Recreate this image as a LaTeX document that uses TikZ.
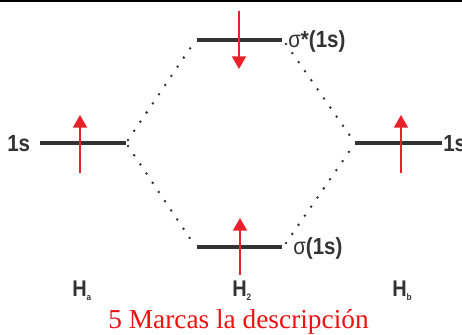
\documentclass[tikz,border=0pt]{standalone}
\usepackage{fontspec}
\setmainfont{Liberation Serif}
\newfontfamily\labfont[FakeStretch=0.88]{Liberation Sans}
\usetikzlibrary{arrows.meta}
\definecolor{lvl}{HTML}{333333}
\definecolor{spin}{HTML}{E8212B}
\definecolor{captred}{HTML}{F01010}
\begin{document}
\begin{tikzpicture}[x=0.75pt,y=-0.75pt,
  level/.style={draw=lvl,line width=2.7pt},
  spinarrow/.style={draw=spin,line width=1.5pt,-{Triangle[width=10.5pt,length=9.5pt]}},
  corr/.style={draw=lvl,line width=2.1pt,line cap=round,dash pattern=on 0pt off 8.3pt},
  lab/.style={text=lvl,font=\labfont\bfseries\fontsize{17.5}{18}\selectfont,inner sep=0pt},
  atom/.style={text=lvl,font=\labfont\bfseries\fontsize{17}{18}\selectfont,inner sep=0pt,anchor=base west}]
\useasboundingbox (0,0) rectangle (462,335);
\fill[black] (0,0) rectangle (462,2.5);
% level end points
\coordinate (a1) at (40,143);  \coordinate (a2) at (126,143);
\coordinate (b1) at (355,143); \coordinate (b2) at (442,143);
\coordinate (s1) at (197,40);  \coordinate (s2) at (282,40);
\coordinate (t1) at (197,247); \coordinate (t2) at (282,247);
% correlation line ends
\coordinate (ca1) at (128,140); \coordinate (ca2) at (193,44);
\coordinate (ca3) at (128,146); \coordinate (ca4) at (193,243);
\coordinate (cb1) at (286,44);  \coordinate (cb2) at (353,140);
\coordinate (cb3) at (286,243); \coordinate (cb4) at (353,146);
\draw[corr] (ca1) -- (ca2);
\draw[corr] (ca3) -- (ca4);
\draw[corr] (cb1) -- (cb2);
\draw[corr] (cb3) -- (cb4);
% levels
\draw[level] (a1) -- (a2);
\draw[level] (b1) -- (b2);
\draw[level] (s1) -- (s2);
\draw[level] (t1) -- (t2);
% spin arrows
\coordinate (ua0) at (80,173);  \coordinate (ua1) at (80,115);
\coordinate (ub0) at (401,173); \coordinate (ub1) at (401,115);
\coordinate (us0) at (239,11);  \coordinate (us1) at (239,69);
\coordinate (ut0) at (240,275); \coordinate (ut1) at (240,218);
\draw[spinarrow] (ua0) -- (ua1);
\draw[spinarrow] (ub0) -- (ub1);
\draw[spinarrow] (us0) -- (us1);
\draw[spinarrow] (ut0) -- (ut1);
% labels
\node[lab,anchor=west] (l1s) at (7,144) {1s};
\node[lab,anchor=west] (r1s) at (443,144) {1s};
\node[lab,anchor=west] (lss) at (288,41) {{\mdseries σ}*(1s)};
\node[lab,anchor=west] (ls) at (293,248) {{\mdseries σ}(1s)};
\node[atom] (ha) at (72,297) {H\raisebox{-3pt}{\fontsize{7}{8}\selectfont a}};
\node[atom] (h2) at (232,297) {H\raisebox{-3pt}{\fontsize{7}{8}\selectfont 2}};
\node[atom] (hb) at (392,297) {H\raisebox{-3pt}{\fontsize{7}{8}\selectfont b}};
\node[anchor=base,inner sep=0pt,text=captred,font=\fontsize{20.5}{22}\selectfont] (cap) at (238.5,329) {5 Marcas la descripción};
\end{tikzpicture}
\end{document}
